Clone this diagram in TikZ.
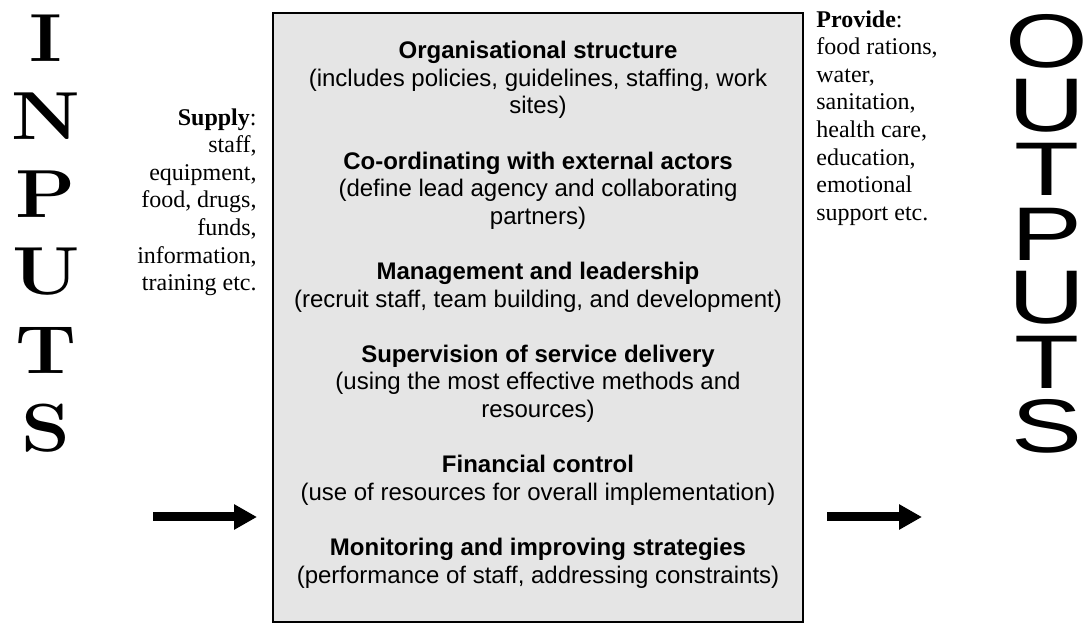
\documentclass[tikz,border=0pt]{standalone}
\usepackage{fontspec}
\usepackage{graphicx}
\setsansfont{Liberation Sans}
\newfontfamily\timesfont{Liberation Serif}
\usetikzlibrary{positioning,arrows.meta}

\begin{document}
\begin{tikzpicture}[x=0.5pt,y=-0.5pt,
   every node/.style={inner sep=0pt},
   inletter/.style={font=\fontsize{34}{34}\selectfont\bfseries},
   outletter/.style={font=\fontsize{38}{38}\selectfont\sffamily},
   sidetext/.style={font=\timesfont\fontsize{12}{13.8}\selectfont},
   fatarrow/.style={line width=4.5pt,-{Triangle[length=11.5pt,width=12pt]}}]
  \useasboundingbox (0,0) rectangle (1088,624);
  % central box
  \node (frame) [draw,line width=1pt,fill=black!10,
     minimum width=265pt,minimum height=304.5pt] at (538,317.5) {};
  \node (tasks) [anchor=north,align=center,
     font=\sffamily\fontsize{12}{13.8}\selectfont] at (538,41)
     {\textbf{Organisational structure}\\
      (includes policies, guidelines, staffing, work\\
      sites)\\[13.8pt]
      \textbf{Co-ordinating with external actors}\\
      (define lead agency and collaborating\\
      partners)\\[13.8pt]
      \textbf{Management and leadership}\\
      (recruit staff, team building, and development)\\[13.8pt]
      \textbf{Supervision of service delivery}\\
      (using the most effective methods and\\
      resources)\\[13.8pt]
      \textbf{Financial control}\\
      (use of resources for overall implementation)\\[13.8pt]
      \textbf{Monitoring and improving strategies}\\
      (performance of staff, addressing constraints)};
  % inputs side
  \foreach \ch [count=\i] in {I,N,P,U,T,S}
    \node (in\i) [inletter] at (46,{38+78*(\i-1)}) {\scalebox{1.15}[1]{\ch}};
  \node (supply) [sidetext,anchor=north east,align=right] at (257,108)
     {\textbf{Supply}:\\ staff,\\ equipment,\\ food, drugs,\\ funds,\\
      information,\\ training etc.};
  % outputs side
  \foreach \ch [count=\i] in {O,U,T,P,U,T,S}
    \node (out\i) [outletter] at (1047,{41+64.3*(\i-1)}) {\scalebox{1.4}[1]{\ch}};
  \node (provide) [sidetext,anchor=north west,align=left] at (816,10)
     {\textbf{Provide}:\\ food rations,\\ water,\\ sanitation,\\ health care,\\
      education,\\ emotional\\ support etc.};
  % flow arrows
  \coordinate (inA) at (153,517);
  \coordinate (inB) at (257,517);
  \coordinate (outA) at (827,517);
  \coordinate (outB) at (922,517);
  \draw[fatarrow] (inA) -- (inB);
  \draw[fatarrow] (outA) -- (outB);
\end{tikzpicture}
\end{document}
